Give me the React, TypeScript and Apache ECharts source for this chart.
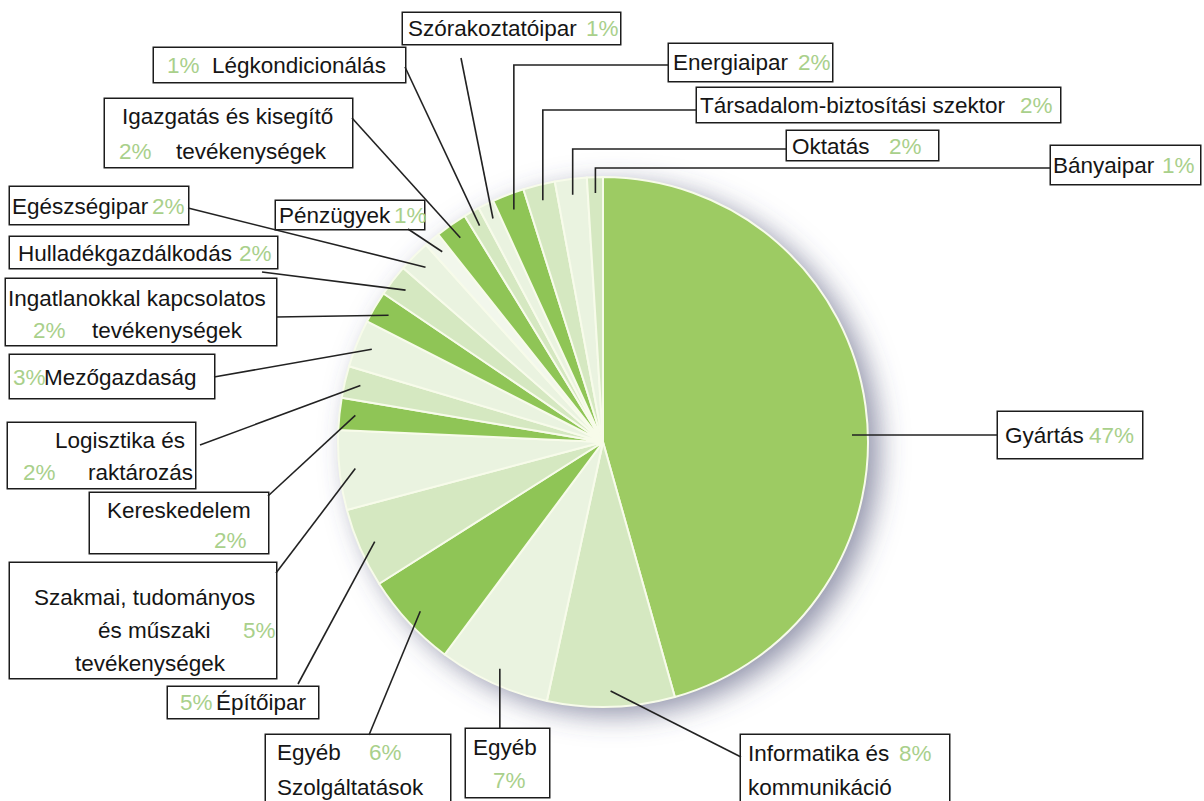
import React, { useEffect, useRef } from "react";
import * as echarts from "echarts";

// ---------- data ----------
const categories = [
  "Gyártás",
  "Informatika és\nkommunikáció",
  "Egyéb",
  "Egyéb\nSzolgáltatások",
  "Építőipar",
  "Szakmai, tudományos\nés műszaki\ntevékenységek",
  "Kereskedelem",
  "Logisztika és\nraktározás",
  "Mezőgazdaság",
  "Ingatlanokkal kapcsolatos\ntevékenységek",
  "Hulladékgazdálkodás",
  "Egészségipar",
  "Pénzügyek",
  "Igazgatás és kisegítő\ntevékenységek",
  "Légkondicionálás",
  "Szórakoztatóipar",
  "Energiaipar",
  "Társadalom-biztosítási szektor",
  "Oktatás",
  "Bányaipar",
];
const values = [47, 8, 7, 6, 5, 5, 2, 2, 3, 2, 2, 2, 1, 2, 1, 1, 2, 2, 2, 1];
const percentLabels = values.map((v) => v + "%");

// ---------- styles / layout ----------
const PIE_CX = 603;
const PIE_CY = 442;
const PIE_R = 265;
const LINK_R = 0.94;
const FONT_FAMILY = "'Liberation Sans', Arial, sans-serif";
const FONT_SIZE = 22.5;
const PALETTE = ["#9dcb63", "#8fc556", "#d5e8c1", "#eaf3e0", "#f2f7ec"];
const shadeIndex = [0, 2, 3, 1, 2, 3, 1, 2, 3, 1, 2, 3, 4, 1, 2, 3, 1, 2, 3, 2];
const TEXT_COLOR = "#151515";
const PCT_COLOR = "#a9d08b";
const BOX_BORDER = "#1c1c1c";
const LINE_COLOR = "#222222";

type Frag = [number, string];
type Link =
  | { type: "line"; ex: number; ey: number }
  | { type: "elbow"; ly: number; ex: number }
  | { type: "vert"; ey: number }
  | { type: "horiz"; ly: number; ex: number };
interface Box { x: number; y: number; w: number; h: number; c0: number; lh: number; lines: Frag[][]; link: Link }

const LABEL_BOXES: Box[] = [
  { x: 998, y: 412, w: 144, h: 46, c0: 23, lh: 24, lines: [[[7, "n0"], [91, "p"]]], link: { type: "horiz", ly: 435, ex: 998 } },
  { x: 741, y: 735, w: 208, h: 68, c0: 18, lh: 34, lines: [[[7, "n0"], [158, "p"]], [[7, "n1"]]], link: { type: "line", ex: 741, ey: 757 } },
  { x: 466, y: 729, w: 83, h: 68, c0: 18, lh: 33, lines: [[[7, "n0"]], [[27, "p"]]], link: { type: "vert", ey: 729 } },
  { x: 266, y: 735, w: 184, h: 68, c0: 15, lh: 35, lines: [[[11, "n0"], [103, "p"]], [[11, "n1"]]], link: { type: "line", ex: 369, ey: 735 } },
  { x: 168, y: 687, w: 150, h: 31, c0: 15, lh: 24, lines: [[[12, "p"], [48, "n0"]]], link: { type: "line", ex: 298, ey: 684 } },
  { x: 10, y: 563, w: 266, h: 115, c0: 34, lh: 33, lines: [[[24, "n0"]], [[88, "n1"], [233, "p"]], [[65, "n2"]]], link: { type: "line", ex: 276, ey: 573 } },
  { x: 90, y: 493, w: 178, h: 60, c0: 17, lh: 30, lines: [[[17, "n0"]], [[124, "p"]]], link: { type: "line", ex: 268, ey: 496 } },
  { x: 8, y: 423, w: 187, h: 65, c0: 17, lh: 32, lines: [[[47, "n0"]], [[15, "p"], [80, "n1"]]], link: { type: "line", ex: 200, ey: 445 } },
  { x: 10, y: 355, w: 204, h: 43, c0: 22, lh: 24, lines: [[[3, "p"], [34, "n0"]]], link: { type: "line", ex: 214, ey: 377 } },
  { x: 6, y: 279, w: 270, h: 66, c0: 19, lh: 32, lines: [[[2, "n0"]], [[27, "p"], [86, "n1"]]], link: { type: "line", ex: 276, ey: 317 } },
  { x: 10, y: 237, w: 267, h: 31, c0: 16, lh: 24, lines: [[[8, "n0"], [229, "p"]]], link: { type: "line", ex: 262, ey: 272 } },
  { x: 10, y: 187, w: 178, h: 37, c0: 19, lh: 24, lines: [[[2, "n0"], [142, "p"]]], link: { type: "line", ex: 188, ey: 208 } },
  { x: 276, y: 201, w: 148, h: 28, c0: 14, lh: 24, lines: [[[3, "n0"], [118, "p"]]], link: { type: "line", ex: 408, ey: 229 } },
  { x: 105, y: 99, w: 247, h: 68, c0: 17, lh: 35, lines: [[[17, "n0"]], [[14, "p"], [71, "n1"]]], link: { type: "line", ex: 352, ey: 118 } },
  { x: 154, y: 48, w: 251, h: 34, c0: 17, lh: 24, lines: [[[13, "p"], [58, "n0"]]], link: { type: "line", ex: 405, ey: 67 } },
  { x: 403, y: 13, w: 217, h: 31, c0: 15, lh: 24, lines: [[[5, "n0"], [183, "p"]]], link: { type: "line", ex: 461, ey: 58 } },
  { x: 669, y: 44, w: 163, h: 37, c0: 18, lh: 24, lines: [[[4, "n0"], [129, "p"]]], link: { type: "elbow", ly: 65, ex: 669 } },
  { x: 697, y: 88, w: 363, h: 34, c0: 17, lh: 24, lines: [[[3, "n0"], [323, "p"]]], link: { type: "elbow", ly: 110, ex: 697 } },
  { x: 787, y: 131, w: 151, h: 29, c0: 15, lh: 24, lines: [[[5, "n0"], [102, "p"]]], link: { type: "elbow", ly: 149, ex: 787 } },
  { x: 1051, y: 146, w: 149, h: 38, c0: 19, lh: 24, lines: [[[2, "n0"], [111, "p"]]], link: { type: "elbow", ly: 168, ex: 1051 } },
];

export default function App() {
  const ref = useRef<HTMLDivElement>(null);

  useEffect(() => {
    if (!ref.current) return;
    const chart = echarts.init(ref.current, undefined, { renderer: "svg" });

    const total = values.reduce((a, b) => a + b, 0);
    let cum = 0;
    const midAngles = values.map((v) => {
      const m = ((cum + v / 2) / total) * 360;
      cum += v;
      return m;
    });

    const linkPoints = (i: number): number[][] => {
      const box = LABEL_BOXES[i];
      const a = (midAngles[i] * Math.PI) / 180;
      const rl = PIE_R * LINK_R;
      let sx = PIE_CX + rl * Math.sin(a);
      const sy = PIE_CY - rl * Math.cos(a);
      const L = box.link;
      if (L.type === "elbow") return [[sx, sy], [sx, L.ly], [L.ex, L.ly]];
      if (L.type === "vert") return [[sx, sy], [sx, L.ey]];
      if (L.type === "horiz") {
        const dy = L.ly - PIE_CY;
        sx = PIE_CX + Math.sqrt(rl * rl - dy * dy);
        return [[sx, L.ly], [L.ex, L.ly]];
      }
      return [[sx, sy], [L.ex, L.ey]];
    };

    const buildLabel = (i: number) => {
      const box = LABEL_BOXES[i];
      const nameLines = categories[i].split("\n");
      const rich: Record<string, any> = {};
      const pt = Math.max(0, box.c0 - box.lh / 2);
      const lineStrs: string[] = [];
      box.lines.forEach((frags, k) => {
        let s = "";
        if (frags[0][0] > 0) {
          const nm = `s${k}`;
          rich[nm] = { width: frags[0][0], lineHeight: box.lh, fontSize: FONT_SIZE, fontFamily: FONT_FAMILY, align: "left", color: TEXT_COLOR };
          s += `{${nm}|\u00a0}`;
        }
        frags.forEach(([off, kind], j) => {
          const nm = `t${k}_${j}`;
          const st: any = {
            color: kind === "p" ? PCT_COLOR : TEXT_COLOR,
            fontSize: FONT_SIZE,
            fontFamily: FONT_FAMILY,
            lineHeight: box.lh,
            align: "left",
          };
          if (j < frags.length - 1) st.width = frags[j + 1][0] - off;
          rich[nm] = st;
          const txt = kind === "p" ? percentLabels[i] : nameLines[Number(kind.slice(1))];
          s += `{${nm}|${txt}}`;
        });
        lineStrs.push(s);
      });
      const str = lineStrs.join("\n");
      return {
        show: true,
        position: "outside",
        formatter: () => str,
        rich,
        width: box.w,
        height: box.h - pt,
        padding: [pt, 0, 0, 0],
        backgroundColor: "#ffffff",
        borderColor: BOX_BORDER,
        borderWidth: 1.5,
        overflow: "none",
        fontSize: FONT_SIZE,
        fontFamily: FONT_FAMILY,
        color: TEXT_COLOR,
      };
    };

    const data = categories.map((name, i) => ({
      name,
      value: values[i],
      itemStyle: { color: PALETTE[shadeIndex[i]] },
      label: buildLabel(i),
    }));

    chart.setOption({
      animation: false,
      backgroundColor: "#ffffff",
      series: [
        {
          type: "pie",
          z: 1,
          silent: true,
          center: [PIE_CX, PIE_CY],
          radius: PIE_R,
          label: { show: false },
          labelLine: { show: false },
          emphasis: { disabled: true },
          data: [
            {
              value: 1,
              itemStyle: {
                color: "#ffffff",
                shadowBlur: 28,
                shadowColor: "rgba(70,75,115,0.6)",
                shadowOffsetX: 11,
                shadowOffsetY: 8,
              },
            },
          ],
        },
        {
          type: "pie",
          z: 2,
          silent: true,
          center: [PIE_CX, PIE_CY],
          radius: PIE_R,
          startAngle: 90,
          clockwise: true,
          avoidLabelOverlap: false,
          emphasis: { disabled: true },
          itemStyle: { borderColor: "#f7fbea", borderWidth: 2 },
          labelLine: { show: false },
          labelLayout: (p: any) => {
            const box = LABEL_BOXES[p.dataIndex];
            if (!box) return {};
            return { x: box.x, y: box.y, align: "left", verticalAlign: "top" };
          },
          data,
        },
        {
          type: "custom",
          coordinateSystem: "none",
          silent: true,
          z: 5,
          data: values.map((v, i) => [i, v]),
          renderItem: (_params: any, api: any) => {
            const i = api.value(0) as number;
            return {
              type: "polyline",
              shape: { points: linkPoints(i) },
              style: { stroke: LINE_COLOR, lineWidth: 1.6, fill: "none" },
            };
          },
        },
      ],
    });

    return () => chart.dispose();
  }, []);

  return (
    <div
      ref={ref}
      style={{ position: "fixed", left: 0, top: 0, width: 1204, height: 801, background: "#fff" }}
    />
  );
}
